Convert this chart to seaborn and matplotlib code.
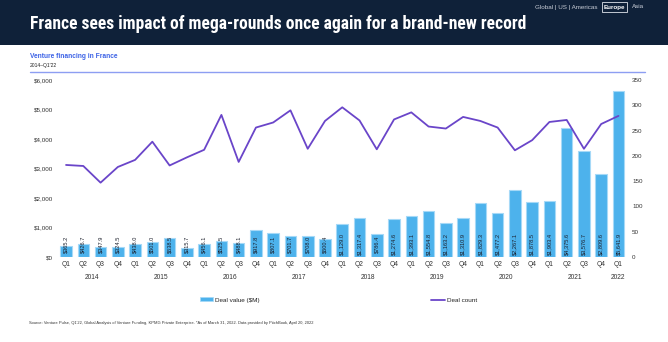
import numpy as np
import pandas as pd
import matplotlib
matplotlib.use("Agg")
import matplotlib.pyplot as plt
import matplotlib.transforms as mtransforms
from matplotlib import font_manager
from matplotlib.patches import Rectangle, Patch
from matplotlib.lines import Line2D
import seaborn as sns

# ---------------- data ----------------
year_labels = ["2014", "2015", "2016", "2017", "2018", "2019", "2020", "2021", "2022"]
quarters_per_year = [4, 4, 4, 4, 4, 4, 4, 4, 1]
quarter_labels = ["Q1", "Q2", "Q3", "Q4"] * 8 + ["Q1"]
deal_value = [365.2, 426.7, 347.9, 324.5,
              438.0, 501.0, 638.5, 315.7,
              456.1, 525.5, 488.1, 917.8,
              807.1, 701.7, 708.0, 600.4,
              1129.0, 1317.4, 786.4, 1274.6,
              1393.1, 1554.8, 1163.2, 1310.9,
              1829.3, 1477.2, 2267.1, 1878.5,
              1903.4, 4375.6, 3576.7, 2809.6,
              5641.9]
deal_count = [182, 180, 147, 178,
              192, 228, 181, 197,
              212, 281, 188, 256,
              266, 290, 214, 269,
              296, 270, 213, 272,
              286, 258, 254, 277,
              269, 256, 211, 231,
              267, 271, 214, 263,
              279]
left_ticks = [0, 1000, 2000, 3000, 4000, 5000, 6000]
right_ticks = [0, 50, 100, 150, 200, 250, 300, 350]

period_year = [y for y, k in zip(year_labels, quarters_per_year) for _ in range(k)]
df = pd.DataFrame({
    "period": [f"{y} {q}" for y, q in zip(period_year, quarter_labels)],
    "quarter": quarter_labels,
    "value": deal_value,
    "count": deal_count,
})
df["pos"] = np.arange(len(df))

# ---------------- style ----------------
sns.set_theme(style="white")
names = {f.name for f in font_manager.fontManager.ttflist}
BASE = "Liberation Sans" if "Liberation Sans" in names else "DejaVu Sans"
plt.rcParams["font.family"] = [BASE, "DejaVu Sans"]
title_font = BASE
for cand in ["Liberation Sans Narrow", "Roboto Condensed", "Open Sans Condensed",
             "DejaVu Sans Condensed", "Arial Narrow"]:
    if cand in names:
        title_font = cand
        break

NAVY = "#0f2139"
BAR = "#4db2ec"
BAR_EDGE = "#a6d9f7"
LINE = "#6a45c9"
BLUE = "#3d63e6"
RULE = "#8d9ef2"
TXT = "#333333"

W, H = 668, 342
fig = plt.figure(figsize=(W / 100, H / 100), dpi=100)
fig.patch.set_facecolor("white")

def fx(px):
    return px / W

def fy(py):
    return (H - py) / H

# header band
fig.patches.append(Rectangle((0, fy(45)), 1, 1 - fy(45), transform=fig.transFigure,
                             facecolor=NAVY, edgecolor="none", zorder=0))
title = fig.text(fx(30), fy(29), "France sees impact of mega-rounds once again for a brand-new record",
                 color="white", fontsize=12, fontweight="bold", family=[title_font, "DejaVu Sans"],
                 ha="left", va="baseline")
fig.canvas.draw()
bb = title.get_window_extent()
title.set_fontsize(12 * 498 / bb.width)

fig.text(fx(535), fy(7), "Global | US | Americas", color="#c9ced8", fontsize=4.5,
         ha="left", va="center")
fig.text(fx(614.5), fy(7), "Europe", color="white", fontsize=4.5, fontweight="bold",
         ha="center", va="center",
         bbox=dict(boxstyle="square,pad=0.35", fc="none", ec="#dfe3ea", lw=0.6))
fig.text(fx(632), fy(7), "Asia", color="#c9ced8", fontsize=4.5, ha="left", va="center")

# subtitle
fig.text(fx(30), fy(57), "Venture financing in France", color=BLUE, fontsize=4.8,
         fontweight="bold", ha="left", va="center")
fig.text(fx(30), fy(66), "2014\u2013Q1'22", color="#222222", fontsize=3.6, ha="left", va="center")
fig.add_artist(Line2D([fx(30), fx(645)], [fy(71.5), fy(71.5)], transform=fig.transFigure,
                      color=RULE, lw=1.0))

# ---------------- axes ----------------
ax_left, ax_right = 57.4, 627.1
ax = fig.add_axes([fx(ax_left), fy(257), (ax_right - ax_left) / W, (257 - 80) / H])
sns.barplot(data=df, x="period", y="value", color=BAR, edgecolor=BAR_EDGE, linewidth=0.8,
            width=0.67, saturation=1, ax=ax, zorder=2)
ax.set_ylim(0, 6000)
ax.set_yticks(left_ticks)
ax.set_yticklabels([f"${v:,}" for v in left_ticks])
ax.set_xticks(df["pos"])
ax.set_xticklabels(df["quarter"])
ax.set_xlabel("")
ax.set_ylabel("")
ax.tick_params(axis="x", length=0, pad=3.2, labelsize=4.8, labelcolor=TXT)
ax.tick_params(axis="y", length=0, pad=3.2, labelsize=4.5, labelcolor=TXT)
for s in ax.spines.values():
    s.set_visible(False)
ax.grid(False)

for p, v in zip(df["pos"], df["value"]):
    ax.text(p, 440, f"${v:,.1f}", rotation=90, ha="center", va="center",
            fontsize=4.1, color="#1b1f2b", zorder=4)

ax2 = ax.twinx()
sns.lineplot(data=df, x="pos", y="count", color=LINE, lw=1.3, ax=ax2, zorder=3)
ax2.set_ylim(0, 350)
ax2.set_yticks(right_ticks)
ax2.set_yticklabels([str(v) for v in right_ticks])
ax2.tick_params(axis="y", length=0, pad=3.6, labelsize=4.5, labelcolor=TXT)
ax2.set_xlabel("")
ax2.set_ylabel("")
for s in ax2.spines.values():
    s.set_visible(False)
ax2.grid(False)
ax.set_xlim(-0.5, len(df) - 0.5)

# year labels
trans = mtransforms.blended_transform_factory(ax.transData, fig.transFigure)
start = 0
for y, k in zip(year_labels, quarters_per_year):
    center = df["pos"].iloc[start:start + k].mean()
    ax.text(center, fy(277.5), y, transform=trans, ha="center", va="center",
            fontsize=4.8, color=TXT)
    start += k

# legends
leg1 = fig.legend(handles=[Patch(facecolor=BAR, edgecolor=BAR_EDGE, lw=0.5)],
                  labels=["Deal value ($M)"], loc="center left",
                  bbox_to_anchor=(fx(200), fy(300)), frameon=False, fontsize=4.6,
                  handlelength=2.1, handleheight=0.55, handletextpad=0.3,
                  borderpad=0, borderaxespad=0)
leg2 = fig.legend(handles=[Line2D([0], [0], color=LINE, lw=1.3)],
                  labels=["Deal count"], loc="center left",
                  bbox_to_anchor=(fx(431), fy(300)), frameon=False, fontsize=4.6,
                  handlelength=2.2, handletextpad=0.3, borderpad=0, borderaxespad=0)
for lg in (leg1, leg2):
    for t in lg.get_texts():
        t.set_color("#222222")

fig.text(fx(29), fy(323),
         "Source: Venture Pulse, Q1'22, Global Analysis of Venture Funding, KPMG Private Enterprise. "
         "*As of March 31, 2022. Data provided by PitchBook, April 20, 2022",
         fontsize=2.9, color="#333333", ha="left", va="center")

fig.savefig("out.png", dpi=100)
